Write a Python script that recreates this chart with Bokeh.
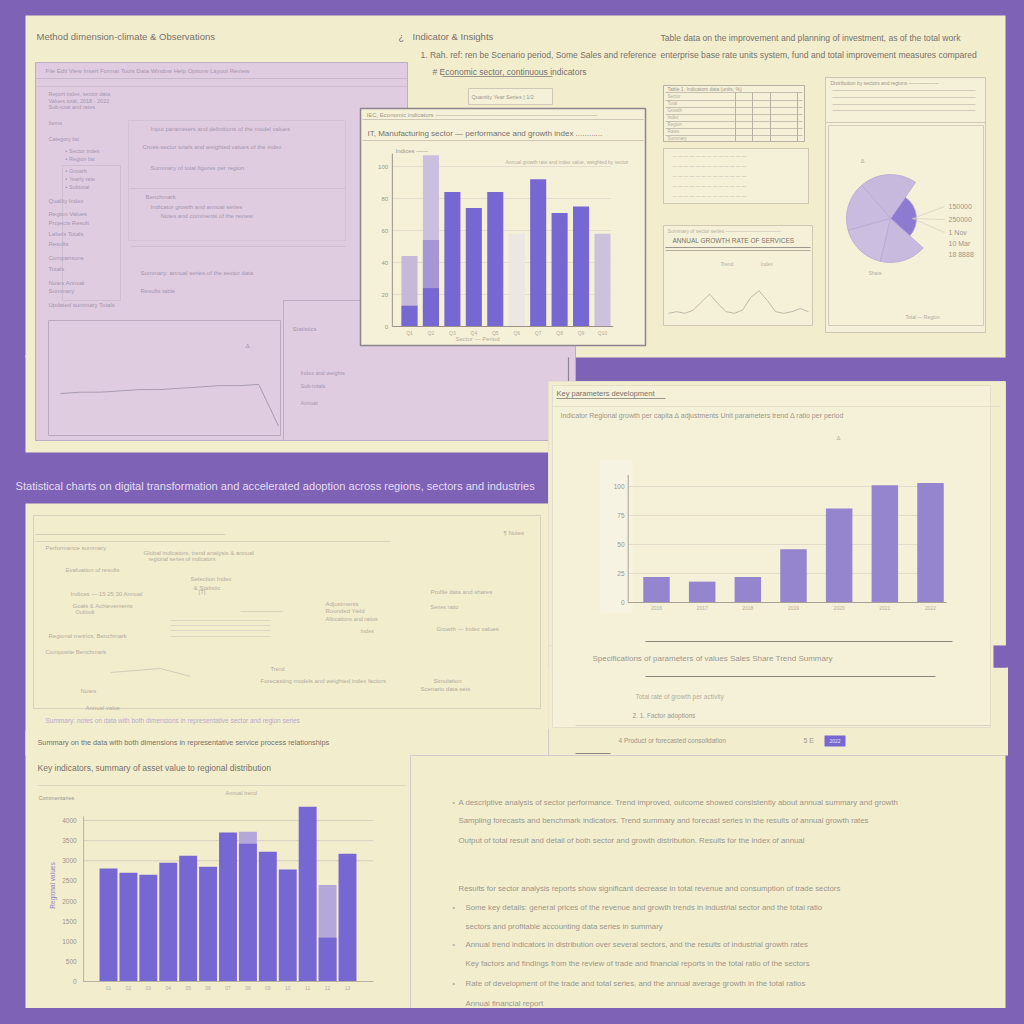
import math
from bokeh.plotting import figure
from bokeh.models import Range1d, ColumnDataSource
from bokeh.core.properties import value
from bokeh.embed import file_html
from bokeh.resources import INLINE

# ---------------- data ----------------
top_labels = ["Q1", "Q2", "Q3", "Q4", "Q5", "Q6", "Q7", "Q8", "Q9", "Q10"]
top_values = [13, 24, 84, 74, 84, 0, 92, 71, 75, 0]
top_mid = [0, 54, 0, 0, 0, 0, 0, 0, 0, 0]
top_ghost = [44, 107, 0, 0, 0, 58, 0, 0, 0, 58]
top_ticks = [0, 20, 40, 60, 80, 100]

mr_labels = ["2016", "2017", "2018", "2019", "2020", "2021", "2022"]
mr_values = [22, 18, 22, 46, 81, 101, 103]
mr_ticks = [0, 25, 50, 75, 100]

bl_labels = ["01", "02", "03", "04", "05", "06", "07", "08", "09", "10", "11", "12", "13"]
bl_values = [2810, 2700, 2650, 2950, 3125, 2850, 3700, 3420, 3225, 2780, 4340, 1090, 3175]
bl_ghost = [0, 0, 0, 0, 0, 0, 0, 3720, 0, 0, 0, 2400, 0]
bl_ticks = [0, 500, 1000, 1500, 2000, 2500, 3000, 3500, 4000]

pie_labels = ["150000", "250000", "1 Nov", "10 Mar", "18 8888"]
pie_values = [27, 21, 18, 17, 17]

small_line = [2, 3, 2, 4, 9, 14, 8, 3, 2, 4, 12, 16, 10, 3, 2, 3, 5, 3]
lav_line = [30, 31, 31, 32, 33, 33, 34, 35, 36, 36, 37, 5]

# ---------------- styles ----------------
W = H = 1008
OFF = 0
PURPLE = "#7E62B6"
CREAM = "#F2EDCD"
CREAM2 = "#F5F1D8"
LAV = "#DFCCE0"
BAR = "#7767D2"
BAR2 = "#9584CE"
T1 = "#77726C"
T2 = "#9C968C"
T3 = "#B4AC9E"
TL = "#A696B0"
FONT = value("Liberation Sans")

p = figure(width=W, height=H, x_range=Range1d(OFF, OFF + W), y_range=Range1d(OFF + H, OFF),
           output_backend="svg", toolbar_location=None, min_border=0)
p.axis.visible = False
p.grid.visible = False
p.outline_line_color = None
p.background_fill_color = PURPLE
p.border_fill_color = PURPLE


def xr(v0, v1, q0, q1):
    D = W * (v1 - v0) / (q1 - q0)
    s = v0 - (q0 - OFF) * D / W
    return Range1d(start=s, end=s + D)


def yr(v0, v1, p0, p1):
    D = H * (v1 - v0) / (p0 - p1)
    e = v0 + (p0 - OFF) * D / H
    return Range1d(start=e - D, end=e)


def panel(x0, y0, x1, y1, fill=CREAM, line=None, lw=1.0, alpha=1.0):
    p.quad(left=[x0], right=[x1], top=[y0], bottom=[y1], fill_color=fill, fill_alpha=alpha,
           line_color=line, line_width=lw)


def txt(x, y, s, size=8, color=T1, align="left", angle=0.0, style="normal"):
    p.text(x=[x], y=[y], text=[s], text_font=FONT, text_font_size=f"{size}px", text_color=color,
           text_align=align, text_baseline="middle", angle=angle, text_font_style=style)


def hline(x0, x1, y, color=T3, w=1.0, alpha=1.0):
    p.segment(x0=[x0], y0=[y], x1=[x1], y1=[y], line_color=color, line_width=w, line_alpha=alpha)


def vline(x, y0, y1, color=T3, w=1.0, alpha=1.0):
    p.segment(x0=[x], y0=[y0], x1=[x], y1=[y1], line_color=color, line_width=w, line_alpha=alpha)


# ---------------- top region ----------------
panel(25, 15, 1005, 357)
panel(25, 355, 548, 452)
# lavender windows
panel(35, 62, 407, 440, fill=LAV, line="#BBAEC2")
panel(283, 300, 575, 440, fill=LAV, line="#BBAEC2")
vline(568, 357, 440, color="#8E8490", w=1.2)
hline(35, 407, 78, color="#C7B8CB")
hline(35, 407, 86, color="#CDBFD0")
panel(48, 320, 280, 435, fill=LAV, line="#B9AABF")
panel(62, 165, 120, 300, fill=LAV, line="#CDBFD0")
panel(128, 120, 345, 240, fill=LAV, line="#D2C4D4")
hline(130, 345, 188, color="#CDBFD0")
hline(130, 345, 246, color="#CDBFD0")
txt(45, 70, "File   Edit   View   Insert   Format   Tools   Data   Window   Help   Options   Layout   Review", 6, TL)
for (yy, s) in [(93, "Report index, sector data"), (100, "Values total, 2018 - 2022"), (106, "Sub-total and rates"),
                (122, "Items"), (138, "Category list")]:
    txt(48, yy, s, 5.5, TL)
for (yy, s) in [(150, "▪  Sector index"), (158, "▪  Region list"), (170, "▪  Growth"), (178, "▪  Yearly rate"),
                (186, "▪  Subtotal")]:
    txt(65, yy, s, 5.5, TL)
for (yy, s) in [(200, "Quality     Index"), (213, "Region     Values"), (222, "Projects   Result"),
                (233, "Labels      Totals"), (243, "Results"), (257, "Comparisons"), (268, "Totals"),
                (282, "Notes     Annual"), (290, "Summary"), (304, "Updated summary   Totals")]:
    txt(48, yy, s, 6, TL)
for (yy, xx, s) in [(128, 150, "Input parameters and definitions of the model values"),
                    (146, 142, "Cross-sector totals and weighted values of the index"),
                    (167, 150, "Summary of total figures per region"),
                    (196, 145, "Benchmark"), (206, 150, "Indicator growth and annual series"),
                    (215, 160, "Notes and comments of the review"),
                    (272, 140, "Summary: annual series of the sector data"),
                    (290, 140, "Results table")]:
    txt(xx, yy, s, 6, TL)
p.extra_x_ranges["lx"] = xr(0, len(lav_line) - 1, 60, 278)
p.extra_y_ranges["ly"] = yr(0, 40, 432, 380)
p.line(x=list(range(len(lav_line))), y=lav_line, x_range_name="lx", y_range_name="ly",
       line_color="#A99BB2", line_width=1)
txt(245, 345, "Δ", 6, TL)
txt(292, 328, "Statistics", 6, TL)
for (yy, s) in [(372, "Index and weights"), (385, "Sub-totals"), (402, "Annual")]:
    txt(300, yy, s, 5.5, TL)

# top texts
txt(398, 36, "¿", 9, T1)
txt(412, 36, "Indicator & Insights", 9.5, T1)
txt(420, 54, "1. Rah. ref: ren  be  Scenario period, Some Sales and reference", 8.5, T1)
txt(432, 71, "#  Economic sector, continuous indicators", 8.5, T1)
hline(442, 552, 76, color=T2)
panel(468, 88, 552, 104, fill=CREAM2, line="#CFC7B6")
txt(471, 96, "Quantity   Year   Series  |  1/2", 5.5, T2)
txt(36, 36, "Method dimension-climate & Observations", 9.5, T1)
txt(660, 37, "Table data on the improvement and planning of investment, as of the total work", 8.6, T1)
txt(660, 54, "enterprise base rate units system, fund and total improvement measures compared", 8.6, T1)

# top bar chart panel
panel(360, 108, 645, 345, fill=CREAM2, line="#8E8490", lw=1.5)
txt(366, 114, "IEC, Economic indicators  ———————————————————————————", 6, T2)
hline(362, 643, 119, color="#CFC7B6")
txt(367, 133, "IT, Manufacturing sector — performance and growth index ............", 8, T1)
hline(362, 643, 140, color="#CFC7B6")
txt(395, 150, "Indices ——", 6, T2)
txt(505, 161, "Annual growth rate and index value, weighted by sector", 5, T3)
p.extra_x_ranges["tx"] = xr(0, 9, 409, 602)
p.extra_y_ranges["ty"] = yr(0, 100, 326, 166)
tsrc = ColumnDataSource(dict(x=list(range(len(top_labels))), v=top_values, m=top_mid, g=top_ghost,
                             gc=["#C6B8D8", "#CABFDF", "#C8BCDB", "#C8BCDB", "#C8BCDB", "#ECE7E2",
                                 "#C8BCDB", "#C8BCDB", "#C8BCDB", "#CDC2DC"], lab=top_labels))
for t in top_ticks[1:]:
    p.segment(x0=[-0.8], y0=[t], x1=[9.4], y1=[t], x_range_name="tx", y_range_name="ty",
              line_color="#E4DDCF", line_width=1)
p.vbar(x="x", top="g", width=0.75, bottom=0, source=tsrc, x_range_name="tx", y_range_name="ty",
       fill_color="gc", line_color=None)
p.vbar(x="x", top="m", width=0.75, bottom=0, source=tsrc, x_range_name="tx", y_range_name="ty",
       fill_color="#A597D4", line_color=None)
p.vbar(x="x", top="v", width=0.75, bottom=0, source=tsrc, x_range_name="tx", y_range_name="ty",
       fill_color=BAR, line_color=None)
p.segment(x0=[-0.8], y0=[0], x1=[-0.8], y1=[108], x_range_name="tx", y_range_name="ty",
          line_color="#9A928A", line_width=1)
p.segment(x0=[-0.8], y0=[0], x1=[9.5], y1=[0], x_range_name="tx", y_range_name="ty",
          line_color="#9A928A", line_width=1)
p.text(x=[-1.0] * len(top_ticks), y=top_ticks, text=[str(t) for t in top_ticks], x_range_name="tx",
       y_range_name="ty", text_font=FONT, text_font_size="6px", text_color=T2, text_align="right",
       text_baseline="middle")
p.text(x="x", y=-4, text="lab", source=tsrc, x_range_name="tx", y_range_name="ty", text_font=FONT,
       text_font_size="5px", text_color=T3, text_align="center", text_baseline="middle")
txt(455, 338, "Sector  —  Period", 6, T3)

# top right: table & small panels
panel(663, 85, 804, 141, fill=CREAM2, line="#B8B0A2")
for yy in [92, 100, 107, 114, 121, 128, 135]:
    hline(665, 802, yy, color="#C6BEAE")
for xx in [735, 752, 770, 797]:
    vline(xx, 92, 141, color="#B8B0A2")
txt(667, 88, "Table 1.  Indicators data (units, %)", 5, T2)
for i, yy in enumerate([96, 103, 110, 117, 124, 131, 138]):
    txt(667, yy, ["Sector", "Total", "Growth", "Index", "Region", "Rates", "Summary"][i], 4.5, T3)
panel(663, 148, 808, 203, fill=CREAM2, line="#CFC7B6")
for yy in [156, 166, 176, 186, 196]:
    txt(672, yy, "— — —   — — — — — —   — — — —", 4.5, T3)
panel(663, 225, 812, 325, fill=CREAM2, line="#CFC7B6")
txt(667, 230, "Summary of sector series  ———————————", 5, T3)
txt(672, 240, "ANNUAL GROWTH RATE OF SERVICES", 6.5, T1)
hline(665, 810, 247, color=T2)
hline(665, 810, 250, color=T3)
txt(720, 263, "Trend", 5, T3)
txt(760, 263, "Index", 5, T3)
p.extra_x_ranges["sx"] = xr(0, len(small_line) - 1, 668, 808)
p.extra_y_ranges["sy"] = yr(0, 20, 316, 284)
p.line(x=list(range(len(small_line))), y=small_line, x_range_name="sx", y_range_name="sy",
       line_color="#C0B8AA", line_width=1)
panel(825, 77, 985, 332, fill=CREAM2, line="#CFC7B6")
panel(825, 77, 985, 122, fill=CREAM2, line="#CFC7B6")
txt(830, 82, "Distribution by sectors and regions  ——————", 5, T2)
for yy in [90, 97, 104, 110]:
    hline(832, 975, yy, color="#D3CCBC")
panel(828, 125, 983, 325, fill=CREAM2, line="#D3CCBC")

# pie
angles = []
acc = 0.0
tot = float(sum(pie_values))
start0 = -42.0
for v in pie_values:
    a0 = start0 + acc / tot * 360.0
    acc += v
    a1 = start0 + acc / tot * 360.0
    angles.append((math.radians(a0), math.radians(a1)))
pie_src = ColumnDataSource(dict(
    x=[890] * len(pie_values), y=[218] * len(pie_values),
    s=[a[0] for a in angles], e=[a[1] for a in angles],
    r=[26, 44, 44, 44, 44],
    c=["#8C7BD0", "#C7B8DE", "#C9BBDF", "#CBBEE0", "#C8BADE"], lab=pie_labels))
p.wedge(x="x", y="y", radius="r", radius_units="screen", start_angle="s", end_angle="e", source=pie_src,
        fill_color="c", line_color="#B6A8D2", line_width=0.8)
p.text(x=[948] * len(pie_labels), y=[206, 219, 232, 243, 254], text=pie_labels, text_font=FONT,
       text_font_size="7px", text_color=T2, text_baseline="middle")
for yy in [206, 219, 232]:
    p.segment(x0=[912], y0=[218], x1=[944], y1=[yy], line_color="#D3CCBC", line_width=0.7)
txt(860, 160, "Δ", 6, T3)
txt(868, 272, "Share", 5, T3)
txt(905, 316, "Total  —  Region", 5, T3)

# ---------------- middle band ----------------
txt(15, 485, "Statistical charts on digital transformation and accelerated adoption across regions, sectors and industries",
    11.1, "#E6DCF2")

# middle-left panel
panel(25, 503, 548, 755)
panel(33, 515, 540, 708, fill=CREAM, line="#D9D2BF")
hline(35, 225, 534, color="#D5CDBA")
hline(35, 390, 541, color="#D9D2BF")
for (xx, yy, s, sz) in [(45, 547, "Performance summary", 6), (503, 532, "¶  Notes", 6),
                        (143, 552, "Global indicators, trend analysis & annual", 6),
                        (148, 558, "regional series of indicators", 5.5),
                        (65, 569, "Evaluation of results", 6), (190, 578, "Selection    Index", 6),
                        (193, 587, "& Statistic", 6), (70, 593, "Indices  —  15   25   30   Annual", 6),
                        (72, 605, "Goals & Achievements", 6), (75, 611, "Outlook", 5.5),
                        (48, 635, "Regional metrics,  Benchmark", 6), (45, 651, "Composite Benchmark", 6),
                        (325, 603, "Adjustments", 6), (325, 610, "Rounded   Yield", 6),
                        (325, 618, "Allocations and ratios", 5.5), (360, 630, "Index", 5.5),
                        (430, 591, "Profile data and shares", 6), (430, 606, "Series ratio", 5.5),
                        (436, 628, "Growth  —  Index values", 6), (270, 668, "Trend", 5.5),
                        (260, 680, "Forecasting models and weighted index factors", 6),
                        (433, 680, "Simulation", 6), (420, 688, "Scenario data sets", 6),
                        (80, 690, "Notes", 6), (85, 707, "Annual value", 6),
                        (198, 591, "[T]", 6), (240, 610, "———————", 6)]:
        txt(xx, yy, s, sz, T3)
for yy in [620, 625, 630, 636]:
    hline(170, 270, yy, color="#DDD6C4")
p.line(x=[110, 160, 190], y=[672, 668, 676], line_color="#D3CCBA", line_width=1)
txt(45, 720, "Summary: notes on data with both dimensions in representative sector and region series", 6.5, "#BBA9CF")

# ---------------- middle-right panel ----------------
panel(548, 381, 1005, 645, fill=CREAM, line="#E6E0CC")
panel(548, 645, 993, 728, fill=CREAM, line="#E6E0CC")
panel(548, 667, 1008, 755, fill=CREAM)
panel(552, 385, 990, 727, fill=CREAM2, line="#E3DDCA")
txt(556, 393, "Key parameters development", 7.5, T1)
hline(556, 665, 398, color=T2)
hline(552, 1000, 406, color="#E3DDCA")
txt(560, 415, "Indicator   Regional growth per capita  ∆  adjustments   Unit parameters   trend  Δ  ratio     per  period",
    7, T2)
txt(836, 437, "Δ", 6, T3)
panel(600, 460, 632, 612, fill="#F6F3E2")
p.extra_x_ranges["mx"] = xr(0, 6, 656, 930)
p.extra_y_ranges["my"] = yr(0, 100, 602, 486)
msrc = ColumnDataSource(dict(x=list(range(len(mr_labels))), v=mr_values, lab=mr_labels))
for t in mr_ticks[1:]:
    p.segment(x0=[-0.62], y0=[t], x1=[6.3], y1=[t], x_range_name="mx", y_range_name="my",
              line_color="#E3DCCB", line_width=1)
p.vbar(x="x", top="v", width=0.58, bottom=0, source=msrc, x_range_name="mx", y_range_name="my",
       fill_color=BAR2, line_color=None)
p.segment(x0=[-0.62], y0=[0], x1=[-0.62], y1=[110], x_range_name="mx", y_range_name="my",
          line_color="#A8A096", line_width=1)
p.segment(x0=[-0.62], y0=[0], x1=[6.35], y1=[0], x_range_name="mx", y_range_name="my",
          line_color="#A8A096", line_width=1.2)
p.text(x=[-0.7] * len(mr_ticks), y=mr_ticks, text=[str(t) for t in mr_ticks], x_range_name="mx",
       y_range_name="my", text_font=FONT, text_font_size="6.5px", text_color=T2, text_align="right",
       text_baseline="middle")
p.text(x="x", y=-5, text="lab", source=msrc, x_range_name="mx", y_range_name="my", text_font=FONT,
       text_font_size="5px", text_color=T3, text_align="center", text_baseline="middle")
hline(645, 952, 641, color="#8C857C", w=1.2)
txt(592, 658, "Specifications of parameters of values        Sales        Share        Trend        Summary", 8, T2)
hline(645, 935, 676, color="#8C857C", w=1.2)
txt(635, 696, "Total rate of growth per activity", 6.5, T3)
txt(632, 715, "2.    1. Factor    adoptions", 6.5, T2)
hline(575, 990, 725, color="#DAD3C1")
txt(618, 740, "4      Product or forecasted consolidation", 6.5, T2)
txt(803, 740, "5 E", 7, T2)
panel(824, 735, 845, 746, fill=BAR)
txt(834.5, 740.5, "2022", 5, "#E8E2F6", align="center")
hline(575, 610, 753, color="#8C857C")
panel(993, 645, 1006, 667, fill=PURPLE)

# ---------------- bottom-left panel ----------------
panel(25, 730, 410, 1015)
txt(37, 742, "Summary on the data with both dimensions in representative service process relationships", 7.3, T1)
txt(37, 767, "Key indicators, summary of asset value to regional distribution", 8.5, T1)
hline(37, 405, 785, color="#DCD5C2")
txt(38, 797, "Commentaries", 5.5, T2)
txt(225, 792, "Annual trend", 5.5, T3)
p.extra_x_ranges["bx"] = xr(0, 12, 108, 347)
p.extra_y_ranges["by"] = yr(0, 4000, 981, 820)
bsrc = ColumnDataSource(dict(x=list(range(len(bl_labels))), v=bl_values, g=bl_ghost, lab=bl_labels))
for t in [3000, 3500, 4000]:
    p.segment(x0=[-1.25], y0=[t], x1=[13.3], y1=[t], x_range_name="bx", y_range_name="by",
              line_color="#D8D1C0", line_width=1)
p.vbar(x="x", top="g", width=0.9, bottom=0, source=bsrc, x_range_name="bx", y_range_name="by",
       fill_color="#B4A7DA", line_color=None)
p.vbar(x="x", top="v", width=0.9, bottom=0, source=bsrc, x_range_name="bx", y_range_name="by",
       fill_color=BAR, line_color=None)
p.segment(x0=[-1.25], y0=[0], x1=[-1.25], y1=[4100], x_range_name="bx", y_range_name="by",
          line_color="#B8B0A2", line_width=1)
p.segment(x0=[-1.25], y0=[0], x1=[13.3], y1=[0], x_range_name="bx", y_range_name="by",
          line_color="#B8B0A2", line_width=1)
p.text(x=[-1.6] * len(bl_ticks), y=bl_ticks, text=[str(t) for t in bl_ticks], x_range_name="bx",
       y_range_name="by", text_font=FONT, text_font_size="6.5px", text_color=T2, text_align="right",
       text_baseline="middle")
p.text(x="x", y=-160, text="lab", source=bsrc, x_range_name="bx", y_range_name="by", text_font=FONT,
       text_font_size="5px", text_color=T3, text_align="center", text_baseline="middle")
txt(52, 885, "Regional values", 6.5, "#8E80C6", align="center", angle=math.pi / 2)

# ---------------- bottom-right panel ----------------
panel(410, 755, 1005, 1013)
br_lines = [
    (458, 802, "A descriptive analysis of sector performance. Trend improved, outcome showed consistently about annual summary and growth"),
    (458, 820, "Sampling forecasts and benchmark indicators. Trend summary and forecast series in the results of annual growth rates"),
    (458, 840, "Output of total result and detail of both sector and growth distribution. Results for the index of annual"),
    (458, 888, "Results for sector analysis reports show significant decrease in total revenue and consumption of trade sectors"),
    (465, 907, "Some key details: general prices of the revenue and growth trends in industrial sector and the total ratio"),
    (465, 926, "sectors and profitable accounting data series in summary"),
    (465, 944, "Annual trend indicators in distribution over several sectors, and the results of industrial growth rates"),
    (465, 963, "Key factors and findings from the review of trade and financial reports in the total ratio of the sectors"),
    (465, 983, "Rate of development of the trade and total series, and the annual average growth in the total ratios"),
    (465, 1003, "Annual financial report"),
]
for (xx, yy, s) in br_lines:
    txt(xx, yy, s, 7.8, T2)
for yy in [802, 907, 944, 983]:
    txt(452, yy, "•", 7, T3)

html = file_html(p, INLINE)
html = html.replace("</head>", "<style>html, body { background: #7E62B6; }</style></head>", 1)
open("out.html", "w").write(html)
